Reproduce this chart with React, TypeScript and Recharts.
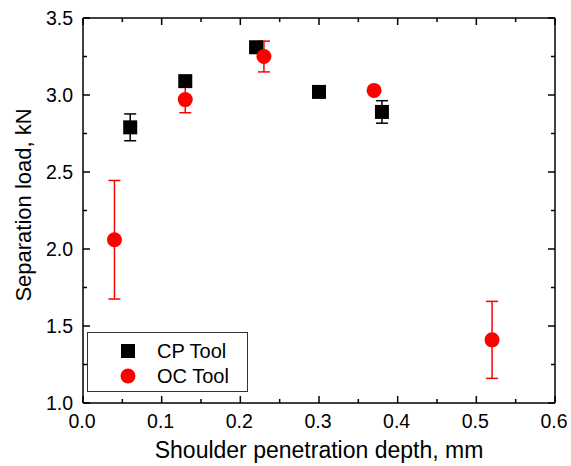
import { ScatterChart, Scatter, XAxis, YAxis, ErrorBar, Legend } from 'recharts';

const cpDepth = [0.06, 0.13, 0.22, 0.3, 0.38];
const cpLoad = [2.79, 3.09, 3.31, 3.02, 2.89];
const cpErr = [0.087, 0.035, 0.02, 0.01, 0.073];

const ocDepth = [0.04, 0.13, 0.23, 0.37, 0.52];
const ocLoad = [2.06, 2.97, 3.25, 3.03, 1.41];
const ocErr = [0.385, 0.085, 0.1, 0.02, 0.25];

const xTicks = [0, 0.05, 0.1, 0.15, 0.2, 0.25, 0.3, 0.35, 0.4, 0.45, 0.5, 0.55, 0.6];
const yTicks = [1, 1.25, 1.5, 1.75, 2, 2.25, 2.5, 2.75, 3, 3.25, 3.5];

const cpData = cpDepth.map((x, i) => ({ x, y: cpLoad[i], err: cpErr[i] }));
const ocData = ocDepth.map((x, i) => ({ x, y: ocLoad[i], err: ocErr[i] }));

const FONT = '"Liberation Sans", Arial, sans-serif';
const RED = '#ff0000';

const xMajor = (v: number) => Math.round(v * 100) % 10 === 0;
const yMajor = (v: number) => Math.round(v * 100) % 50 === 0;

const BottomTick = ({ x, y, payload }: any) => {
  const major = xMajor(payload.value);
  return (
    <g>
      <line x1={x} x2={x} y1={y} y2={y - (major ? 7 : 4)} stroke="#000" strokeWidth={1.5} />
      {major && (
        <text x={x - 1} y={y + 25} textAnchor="middle" fontSize={19.5} fontFamily={FONT} fill="#000">
          {payload.value.toFixed(1)}
        </text>
      )}
    </g>
  );
};

const TopTick = ({ x, y, payload }: any) => {
  const major = xMajor(payload.value);
  return <line x1={x} x2={x} y1={y} y2={y + (major ? 7 : 4)} stroke="#000" strokeWidth={1.5} />;
};

const LeftTick = ({ x, y, payload }: any) => {
  const major = yMajor(payload.value);
  return (
    <g>
      <line x1={x} x2={x + (major ? 7 : 4)} y1={y} y2={y} stroke="#000" strokeWidth={1.5} />
      {major && (
        <text x={x - 10} y={y} dy="0.36em" textAnchor="end" fontSize={19.5} fontFamily={FONT} fill="#000">
          {payload.value.toFixed(1)}
        </text>
      )}
    </g>
  );
};

const RightTick = ({ x, y, payload }: any) => {
  const major = yMajor(payload.value);
  return <line x1={x} x2={x - (major ? 7 : 4)} y1={y} y2={y} stroke="#000" strokeWidth={1.5} />;
};

const Square = ({ cx, cy }: any) => <rect x={cx - 7} y={cy - 7} width={14} height={14} fill="#000" />;
const Dot = ({ cx, cy }: any) => <circle cx={cx} cy={cy} r={7.5} fill={RED} />;

const LegendBox = () => (
  <svg width={161} height={60}>
    <rect x={0.5} y={0.5} width={160} height={59} fill="#fff" stroke="#333" strokeWidth={1} />
    <rect x={34} y={12} width={14} height={14} fill="#000" />
    <text x={70} y={26} fontSize={20} fontFamily={FONT} fill="#000">CP Tool</text>
    <circle cx={41} cy={44} r={7.5} fill={RED} />
    <text x={70} y={51} fontSize={20} fontFamily={FONT} fill="#000">OC Tool</text>
  </svg>
);

export default function App() {
  return (
    <div style={{ position: 'absolute', left: 0, top: 0, width: 571, height: 466, background: '#fff' }}>
      <ScatterChart width={571} height={466} margin={{ top: 0, right: 0, bottom: 0, left: 0 }}>
        <XAxis
          xAxisId="b"
          type="number"
          dataKey="x"
          domain={[0, 0.6]}
          ticks={xTicks}
          interval={0}
          height={63}
          tickSize={0}
          tickMargin={0}
          tickLine={false}
          axisLine={{ stroke: '#000', strokeWidth: 1.5 }}
          tick={<BottomTick />}
        />
        <XAxis
          xAxisId="t"
          orientation="top"
          type="number"
          dataKey="x"
          domain={[0, 0.6]}
          ticks={xTicks}
          interval={0}
          height={18}
          tickSize={0}
          tickMargin={0}
          tickLine={false}
          axisLine={{ stroke: '#000', strokeWidth: 1.5 }}
          tick={<TopTick />}
        />
        <YAxis
          yAxisId="l"
          type="number"
          dataKey="y"
          domain={[1, 3.5]}
          ticks={yTicks}
          interval={0}
          width={83}
          tickSize={0}
          tickMargin={0}
          tickLine={false}
          axisLine={{ stroke: '#000', strokeWidth: 1.5 }}
          tick={<LeftTick />}
        />
        <YAxis
          yAxisId="r"
          orientation="right"
          type="number"
          dataKey="y"
          domain={[1, 3.5]}
          ticks={yTicks}
          interval={0}
          width={16}
          tickSize={0}
          tickMargin={0}
          tickLine={false}
          axisLine={{ stroke: '#000', strokeWidth: 1.5 }}
          tick={<RightTick />}
        />
        <Scatter name="CP Tool" data={cpData} xAxisId="b" yAxisId="l" shape={<Square />} isAnimationActive={false}>
          <ErrorBar dataKey="err" direction="y" width={6} stroke="#000" strokeWidth={1.5} />
        </Scatter>
        <Scatter name="OC Tool" data={ocData} xAxisId="b" yAxisId="l" shape={<Dot />} isAnimationActive={false}>
          <ErrorBar dataKey="err" direction="y" width={6} stroke={RED} strokeWidth={1.5} />
        </Scatter>
        <Scatter data={cpData} xAxisId="t" yAxisId="r" shape={() => null} legendType="none" isAnimationActive={false} />
        <Legend
          layout="horizontal"
          align="center"
          verticalAlign="middle"
          content={<LegendBox />}
          wrapperStyle={{ left: 87, top: 332, width: 161, height: 60 }}
        />
        <text x={319} y={458} textAnchor="middle" fontSize={23} fontFamily={FONT} fill="#000">
          Shoulder penetration depth, mm
        </text>
        <text
          x={31}
          y={205}
          transform="rotate(-90 31 205)"
          textAnchor="middle"
          fontSize={22}
          fontFamily={FONT}
          fill="#000"
        >
          Separation load, kN
        </text>
      </ScatterChart>
    </div>
  );
}
